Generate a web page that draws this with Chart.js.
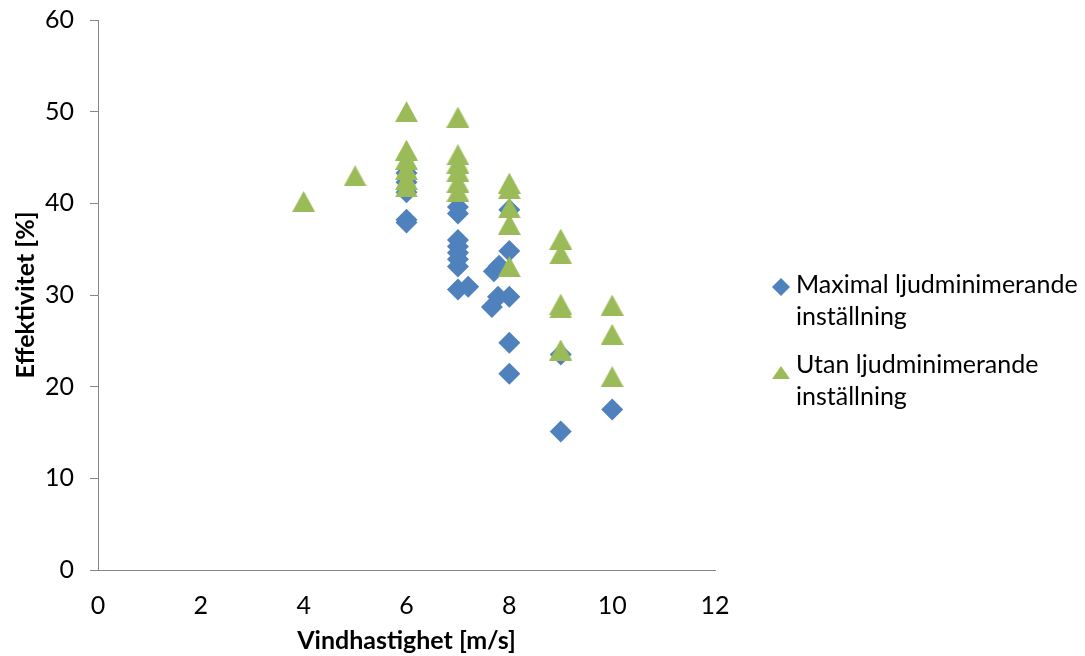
<!DOCTYPE html>
<html>
<head>
<meta charset="utf-8">
<script src="https://cdn.jsdelivr.net/npm/chart.js@4/dist/chart.umd.min.js"></script>
<style>
  html, body { margin: 0; padding: 0; background: #ffffff; }
  #wrap { width: 1085px; height: 656px; }
</style>
</head>
<body>
<div id="wrap"><canvas id="chart" width="1085" height="656"></canvas></div>
<script>
// Wind speed [m/s] and efficiency [%] per measurement
const maxLjudX = [6, 6, 6, 6, 6,
                  7, 7, 7, 7, 7, 7, 7, 7,
                  7.2, 7.66, 7.7, 7.78, 7.8,
                  8, 8, 8, 8, 8,
                  9, 9, 10];
const maxLjudY = [43.3, 42.3, 41.2, 38.2, 37.9,
                  39.6, 38.9, 36.0, 35.3, 34.6, 33.9, 33.1, 30.6,
                  30.9, 28.7, 32.6, 29.8, 33.2,
                  39.3, 34.8, 29.8, 24.8, 21.4,
                  23.5, 15.1, 17.5];

const utanLjudX = [4, 5,
                   6, 6, 6, 6, 6, 6,
                   7, 7, 7, 7, 7, 7,
                   8, 8, 8, 8, 8,
                   9, 9, 9, 9, 9,
                   10, 10, 10];
const utanLjudY = [40.2, 43.0,
                   50.0, 45.8, 44.8, 43.7, 42.6, 41.8,
                   49.4, 45.3, 44.4, 43.5, 42.3, 41.3,
                   42.2, 41.6, 39.5, 37.7, 33.1,
                   36.1, 34.5, 29.0, 28.6, 24.0,
                   28.9, 25.7, 21.1];

const xTicks = [0, 2, 4, 6, 8, 10, 12];
const yTicks = [0, 10, 20, 30, 40, 50, 60];

const seriesNames = ['Maximal ljudminimerande inställning', 'Utan ljudminimerande inställning'];
const legendLines = [['Maximal ljudminimerande', 'inställning'], ['Utan ljudminimerande', 'inställning']];
const xTitle = 'Vindhastighet [m/s]';
const yTitle = 'Effektivitet [%]';

const BLUE = '#4F81BD';
const GREEN = '#9BBB59';
const AXIS = '#868686';
const FONT = 'Lato, "Open Sans", sans-serif';

// Triangle marker centred on its bounding box
function triangleMarker(color, w, h) {
  const c = document.createElement('canvas');
  c.width = w; c.height = h;
  const g = c.getContext('2d');
  g.fillStyle = color;
  g.beginPath();
  g.moveTo(w / 2, 0);
  g.lineTo(w, h);
  g.lineTo(0, h);
  g.closePath();
  g.fill();
  return c;
}
const triPoint = triangleMarker(GREEN, 23, 21);
const triLegend = triangleMarker(GREEN, 18, 13);

const toPoints = (xs, ys) => xs.map((x, i) => ({ x: x, y: ys[i] }));

// Two-line legend drawn to the right of the plot
const sideLegend = {
  id: 'sideLegend',
  afterDraw(chart) {
    const ctx = chart.ctx;
    ctx.save();
    ctx.font = '25px ' + FONT;
    ctx.fillStyle = '#000000';
    ctx.textBaseline = 'alphabetic';
    ctx.textAlign = 'left';
    const textX = 796;
    const baselines = [[293, 325], [373, 405]];
    legendLines.forEach((lines, i) => {
      lines.forEach((t, j) => ctx.fillText(t, textX, baselines[i][j]));
    });
    // diamond
    const dx = 781, dy = 287, r = 9;
    ctx.fillStyle = BLUE;
    ctx.beginPath();
    ctx.moveTo(dx, dy - r);
    ctx.lineTo(dx + r, dy);
    ctx.lineTo(dx, dy + r);
    ctx.lineTo(dx - r, dy);
    ctx.closePath();
    ctx.fill();
    // triangle
    ctx.drawImage(triLegend, 781 - 9, 366);
    ctx.restore();
  }
};

new Chart(document.getElementById('chart'), {
  type: 'scatter',
  data: {
    datasets: [
      {
        label: seriesNames[0],
        data: toPoints(maxLjudX, maxLjudY),
        order: 1,
        pointStyle: 'rectRot',
        pointRadius: 11,
        pointHoverRadius: 11,
        pointBackgroundColor: BLUE,
        pointBorderColor: BLUE,
        pointBorderWidth: 0
      },
      {
        label: seriesNames[1],
        data: toPoints(utanLjudX, utanLjudY),
        order: 0,
        pointStyle: triPoint,
        pointRadius: 11,
        pointHoverRadius: 11,
        pointBackgroundColor: GREEN,
        pointBorderColor: GREEN
      }
    ]
  },
  options: {
    responsive: false,
    animation: false,
    devicePixelRatio: 1,
    layout: { padding: { top: 20, right: 370, bottom: 0, left: 0 } },
    plugins: {
      legend: { display: false },
      tooltip: { enabled: false }
    },
    scales: {
      x: {
        type: 'linear',
        min: 0,
        max: 12,
        afterBuildTicks: s => { s.ticks = xTicks.map(v => ({ value: v })); },
        afterFit: s => { s.height = 86; s.paddingLeft = 0; s.paddingRight = 0; },
        grid: { display: false, drawTicks: false },
        border: { display: true, color: AXIS, width: 1 },
        ticks: { padding: 21, color: '#000000', font: { family: FONT, size: 25 } },
        title: {
          display: true,
          text: xTitle,
          color: '#000000',
          font: { family: FONT, size: 25, weight: 'bold' },
          padding: { top: 0, bottom: 0 }
        }
      },
      y: {
        type: 'linear',
        min: 0,
        max: 60,
        afterBuildTicks: s => { s.ticks = yTicks.map(v => ({ value: v })); },
        afterFit: s => { s.width = 98; s.paddingTop = 0; s.paddingBottom = 0; },
        grid: { display: true, drawOnChartArea: false, drawTicks: true, tickLength: 8, color: AXIS },
        border: { display: true, color: AXIS, width: 1 },
        ticks: { padding: 16, color: '#000000', font: { family: FONT, size: 25 } },
        title: {
          display: true,
          text: yTitle,
          color: '#000000',
          font: { family: FONT, size: 25, weight: 'bold' },
          padding: { top: 11, bottom: 0 }
        }
      }
    }
  },
  plugins: [sideLegend]
});
</script>
</body>
</html>
